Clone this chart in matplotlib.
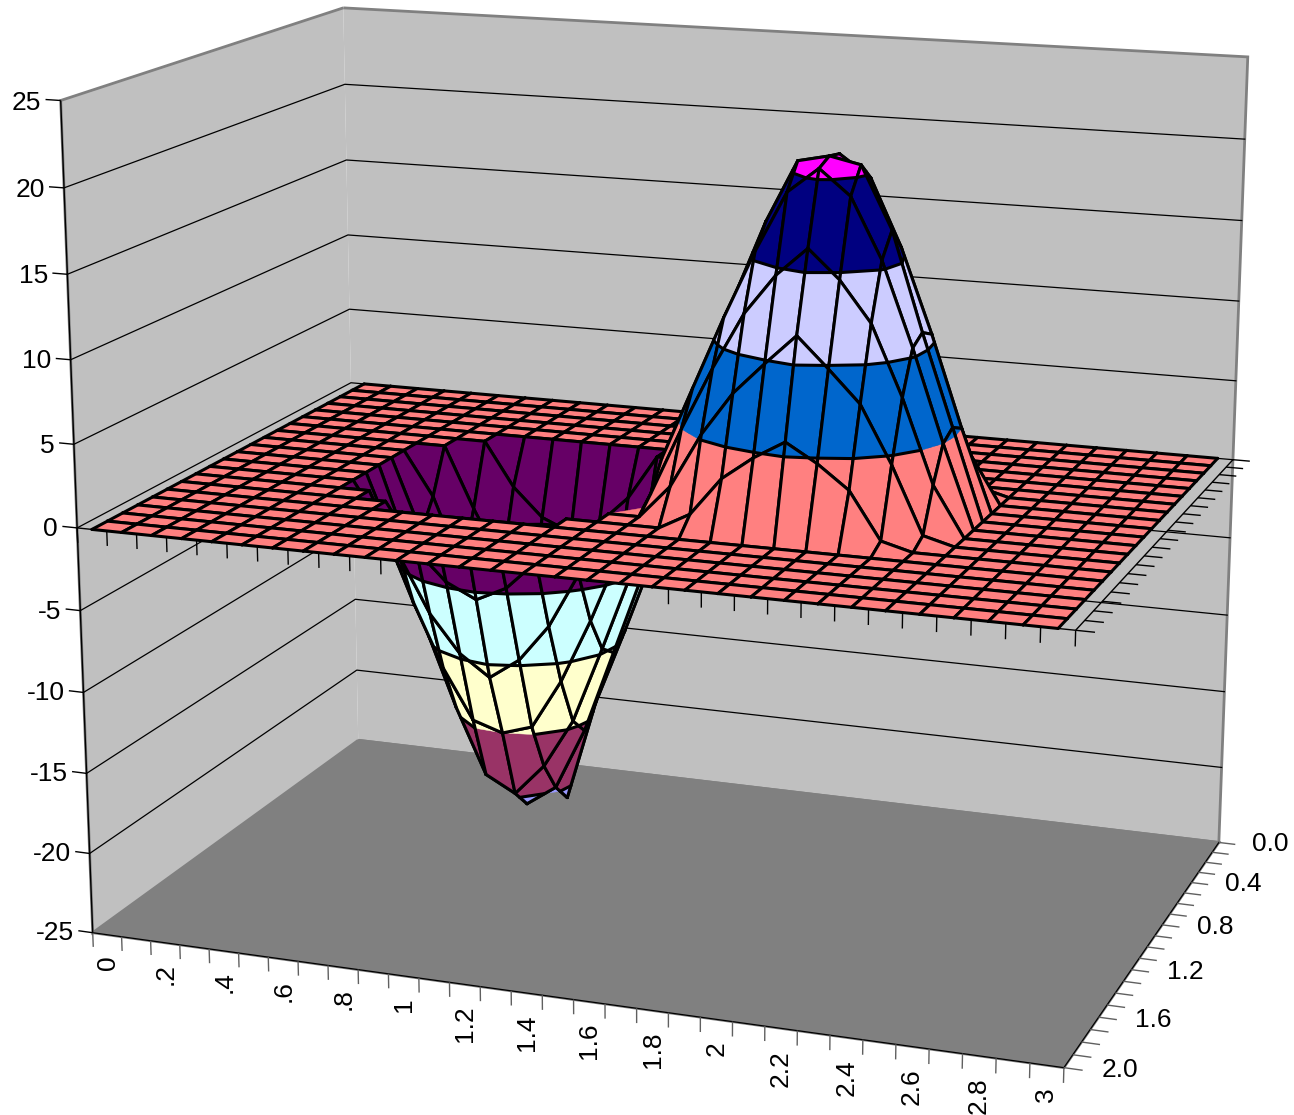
import numpy as np
import matplotlib as mpl
#headless mode
mpl.use('Agg')
import matplotlib.pyplot as plt
from mpl_toolkits.mplot3d import proj3d
from mpl_toolkits.mplot3d.art3d import Poly3DCollection, Line3DCollection

plt.rcParams['font.family'] = ['Liberation Sans', 'DejaVu Sans']

W, H = 1294, 1115

# categories along the front, series along the side
x_values = np.arange(31) * 0.1
y_values = np.arange(21) * 0.1
x_tick_values = [0, .2, .4, .6, .8, 1, 1.2, 1.4, 1.6, 1.8, 2, 2.2, 2.4, 2.6, 2.8, 3]
x_tick_labels = ['0', '.2', '.4', '.6', '.8', '1', '1.2', '1.4', '1.6', '1.8', '2', '2.2', '2.4', '2.6', '2.8', '3']
y_tick_values = [0, .4, .8, 1.2, 1.6, 2]
y_tick_labels = ['0.0', '0.4', '0.8', '1.2', '1.6', '2.0']
z_tick_values = [-25, -20, -15, -10, -5, 0, 5, 10, 15, 20, 25]

row_flat = [0] * 31
row_06 = [0, 0, 0, 0, 0, 0, 0, 0, -2.8, -4.6, -5.4, -4.6, -2.8, 0, 0, 0, 0, 1.0, 3.3, 4.7, 5.2, 4.7, 3.3, .5, 0, 0, 0, 0, 0, 0, 0]
row_07 = [0, 0, 0, 0, 0, 0, 0, -3.9, -7.3, -9.6, -10.6, -9.6, -7.3, -3.9, 0, 0, 2.0, 5.3, 7.9, 9.8, 10.4, 9.8, 7.9, 4.5, .5, 0, 0, 0, 0, 0, 0]
row_08 = [0, 0, 0, 0, 0, 0, -2.8, -7.3, -11.3, -14.4, -15, -14.4, -11.3, -7.3, -2.8, .9, 5.0, 8.8, 12.2, 14.6, 15.6, 14.6, 12.2, 8, 3, 0, 0, 0, 0, 0, 0]
row_09 = [0, 0, 0, 0, 0, 0, -4.6, -9.6, -14.4, -16, -19, -20.8, -14.4, -9.6, -4.6, 2.6, 7.0, 11.4, 15.5, 19.5, 20.8, 19.5, 15.5, 10.5, 5, 0, 0, 0, 0, 0, 0]
row_10 = [0, 0, 0, 0, 0, 0, -5.2, -10.4, -15.6, -18.5, -20.8, -19.5, -15.6, -10.4, -5.2, 3.2, 7.7, 12.3, 16.9, 20.6, 21, 20.6, 16.9, 11, 5.5, 0, 0, 0, 0, 0, 0]
row_11 = [0, 0, 0, 0, 0, 0, -4.6, -9.6, -14.4, -18.5, -19.5, -17.5, -14.4, -9.6, -4.6, 2.6, 7.0, 11.4, 15.5, 19.1, 20.6, 19.1, 15.5, 10.5, 5, 0, 0, 0, 0, 0, 0]
row_12 = [0, 0, 0, 0, 0, 0, -2.8, -7.3, -11.3, -14.4, -15, -14.4, -11.3, -7.3, -2.8, .9, 5.0, 8.8, 12.2, 14.6, 16.3, 14.6, 12.2, 8, 3, 0, 0, 0, 0, 0, 0]
row_13 = [0, 0, 0, 0, 0, 0, 0, -3.9, -7.3, -9.6, -10.9, -9.6, -7.3, -3.9, 0, 0, 2.0, 5.3, 7.9, 9.8, 11.6, 9.8, 7.9, 4.5, .5, 0, 0, 0, 0, 0, 0]
row_14 = [0, 0, 0, 0, 0, 0, 0, 0, -2.8, -4.6, -5.5, -4.6, -2.8, 0, 0, 0, 0, 1.0, 3.3, 4.7, 5.8, 4.7, 3.3, .5, 0, 0, 0, 0, 0, 0, 0]

z_values = np.array([row_flat] * 6 + [row_06, row_07, row_08, row_09, row_10, row_11, row_12, row_13, row_14] + [row_flat] * 6, dtype=float)

band_edges = [-25, -20, -15, -10, -5, 0, 5, 10, 15, 20, 25]
band_colors = ['#9999FF', '#993366', '#FFFFCC', '#CCFFFF', '#660066', '#FF8080', '#0066CC', '#CCCCFF', '#000080', '#FF00FF']

x_min, x_max = -0.05, 3.05
y_min, y_max = 0.0, 2.0
z_min, z_max = -25.0, 25.0

# where the box corners sit in the picture, used to solve the camera
corners_3d = [(x_min, y_min, z_min), (x_min, y_max, z_min), (x_max, y_max, z_min), (x_max, y_min, z_min),
              (x_min, y_min, z_max), (x_min, y_max, z_max), (x_max, y_min, z_max),
              (x_min, y_min, 0), (x_min, y_max, 0), (x_max, y_max, 0), (x_max, y_min, 0)]
corners_px = [(357, 740), (93, 933), (1063, 1068), (1220, 842),
              (343, 8), (60, 100), (1248, 57),
              (352, 383), (78, 528), (1076, 630), (1232, 460)]


def solve_camera(pts, pix):
    rows = []
    for (X, Y, Z), (u, v) in zip(pts, pix):
        v = H - v
        rows.append([X, Y, Z, 1, 0, 0, 0, 0, -u * X, -u * Y, -u * Z, -u])
        rows.append([0, 0, 0, 0, X, Y, Z, 1, -v * X, -v * Y, -v * Z, -v])
    P = np.linalg.svd(np.array(rows))[2][-1].reshape(3, 4)
    if P[2] @ np.array([1.5, 1, 0, 1]) < 0:
        P = -P
    return P


def clip_band(poly, lo, hi):
    # cut a cell outline to one z band
    for limit, sign in ((lo, 1), (hi, -1)):
        out = []
        for i in range(len(poly)):
            a, b = poly[i], poly[(i + 1) % len(poly)]
            da, db = sign * (a[2] - limit), sign * (b[2] - limit)
            if da >= 0:
                out.append(a)
            if (da > 0 and db < 0) or (da < 0 and db > 0):
                t = da / (da - db)
                out.append(tuple(np.array(a) + t * (np.array(b) - np.array(a))))
        poly = out
        if len(poly) < 3:
            return []
    return poly


def level_segments(poly):
    segs = []
    for level in band_edges:
        if level == 0:
            continue
        hits = []
        for i in range(4):
            a, b = poly[i], poly[(i + 1) % 4]
            if (a[2] - level) * (b[2] - level) < 0:
                t = (level - a[2]) / (b[2] - a[2])
                hits.append(tuple(np.array(a) + t * (np.array(b) - np.array(a))))
        for k in range(0, len(hits) - 1, 2):
            segs.append([hits[k], hits[k + 1]])
    return segs


def tick_text(x, y, z, label, **kw):
    # flat text pinned to a 3d point
    u, v, _ = proj3d.proj_transform(x, y, z, M)
    ax.text2D(u, v, label, transform=ax.transData, fontsize=19, zorder=3, **kw)


side = 1500
fig = plt.figure(figsize=(W / 100, H / 100), dpi=100)
ax = fig.add_axes([(W - side) / 2 / W, (H - side) / 2 / H, side / W, side / H],
                  projection='3d', computed_zorder=False)
ax.set_xlim(x_min, x_max, view_margin=0)
ax.set_ylim(y_min, y_max, view_margin=0)
ax.set_zlim(z_min, z_max, view_margin=0)
ax.apply_aspect()

P = solve_camera(corners_3d, corners_px)
P2 = ax.transData.inverted().get_matrix() @ P
M = np.vstack([P2[0], P2[1], [0, 0, 0, -1], P2[2]])
ax.get_proj = lambda: M
camera = np.linalg.solve(P[:, :3], -P[:, 3])

# panes
for axis, colour in ((ax.xaxis, '#C0C0C0'), (ax.yaxis, '#C0C0C0'), (ax.zaxis, '#808080')):
    axis.set_pane_color(colour)
    axis.pane.set_edgecolor('#808080')
    axis.pane.set_linewidth(2.0)
    axis.line.set_color('black')
    axis.line.set_linewidth(0.9)
    axis.gridlines.set_visible(False)
    axis._axinfo['tick']['inward_factor'] = 0
    axis._axinfo['tick']['outward_factor'] = 0
ax.zaxis.line.set_visible(False)

ax.set_xticks(x_tick_values)
ax.set_xticklabels([])
ax.set_yticks(y_tick_values)
ax.set_yticklabels([])
ax.set_zticks(z_tick_values)
ax.set_zticklabels([])

for value, label in zip(x_tick_values, x_tick_labels):
    tick_text(value, y_max, z_min - 1.3, label, rotation=90, ha='center', va='top')
for value, label in zip(y_tick_values, y_tick_labels):
    tick_text(x_max + 0.11, value, z_min + 0.15, label, ha='left', va='center')
for value in z_tick_values:
    tick_text(x_min - 0.065, y_max, value - 0.2, str(value), ha='right', va='center')

# wall gridlines
for z in z_tick_values[1:-1]:
    ax.plot([x_min, x_min, x_max], [y_max, y_min, y_min], [z, z, z], color='black', lw=0.9, zorder=1)

# tick marks
tick_segs = []
grey_segs = []
for i in range(32):
    xe = x_min + i * 0.1
    grey_segs.append([(xe, y_max, z_min), (xe, y_max, z_min - 0.9)])
    tick_segs.append([(xe, y_max, 0), (xe, y_max, -0.9)])
for y in np.arange(21) * 0.1:
    grey_segs.append([(x_max, y, z_min), (x_max + 0.055, y, z_min)])
    tick_segs.append([(x_max, y, 0), (x_max + 0.055, y, 0)])
for z in z_tick_values:
    tick_segs.append([(x_min, y_max, z), (x_min - 0.05, y_max, z)])
tick_segs.append([(x_min, y_max, 0), (x_max, y_max, 0)])
tick_segs.append([(x_max, y_max, 0), (x_max, y_min, 0)])
tick_segs.append([(x_min, y_max, z_min), (x_min, y_max, z_max)])
ax.add_collection3d(Line3DCollection(grey_segs, colors='#606060', linewidths=1.0, zorder=2), autolim=False)
ax.add_collection3d(Line3DCollection(tick_segs, colors='black', linewidths=1.0, zorder=2), autolim=False)

# surface, far cells first
cells = []
for j in range(len(y_values) - 1):
    for i in range(len(x_values) - 1):
        cx = (x_values[i] + x_values[i + 1]) / 2
        cy = (y_values[j] + y_values[j + 1]) / 2
        cells.append((np.hypot(cx - camera[0], cy - camera[1]), i, j))
cells.sort(reverse=True)

for order, (_, i, j) in enumerate(cells):
    quad = [(x_values[i], y_values[j], z_values[j, i]),
            (x_values[i + 1], y_values[j], z_values[j, i + 1]),
            (x_values[i + 1], y_values[j + 1], z_values[j + 1, i + 1]),
            (x_values[i], y_values[j + 1], z_values[j + 1, i])]
    zs = [p[2] for p in quad]
    pieces, colours = [], []
    if max(zs) == min(zs):
        k = int(np.searchsorted(band_edges, zs[0], side='right')) - 1
        pieces.append(quad)
        colours.append(band_colors[k])
    else:
        for k, colour in enumerate(band_colors):
            lo, hi = band_edges[k], band_edges[k + 1]
            piece = clip_band(quad, lo, hi)
            if piece and max(p[2] for p in piece) > lo and min(p[2] for p in piece) < hi:
                pieces.append(piece)
                colours.append(colour)
    ax.add_collection3d(Poly3DCollection(pieces, facecolors=colours, edgecolors=colours, linewidths=0.3,
                                         zorder=10 + 2 * order), autolim=False)
    edges = [[quad[n], quad[(n + 1) % 4]] for n in range(4)] + level_segments(quad)
    ax.add_collection3d(Line3DCollection(edges, colors='black', linewidths=2.2, capstyle='round',
                                         zorder=11 + 2 * order), autolim=False)

fig.savefig('out.png', dpi=100)
